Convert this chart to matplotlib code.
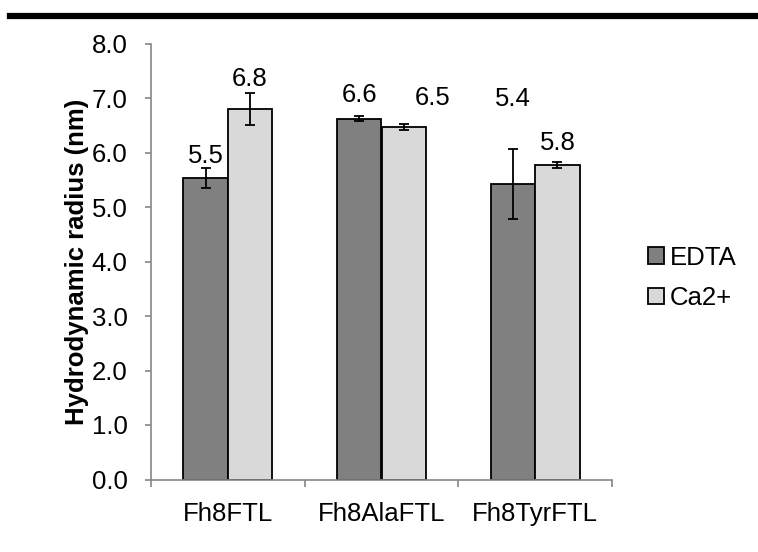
import matplotlib
matplotlib.use("Agg")
import matplotlib.pyplot as plt
import numpy as np
from matplotlib.lines import Line2D
from matplotlib.patches import Patch

plt.rcParams['font.family'] = ['Liberation Sans', 'DejaVu Sans']

categories = ["Fh8FTL", "Fh8AlaFTL", "Fh8TyrFTL"]
series_names = ["EDTA", "Ca2+"]
edta_values = [5.53, 6.62, 5.42]
edta_errors = [0.19, 0.05, 0.64]
ca_values = [6.80, 6.47, 5.77]
ca_errors = [0.29, 0.06, 0.06]
y_ticks = [0.0, 1.0, 2.0, 3.0, 4.0, 5.0, 6.0, 7.0, 8.0]

# label placement (centre of each value label relative to its bar top / centre)
label_dy = [[0.41, 0.43, 1.56], [0.54, 0.53, 0.40]]
label_dx = [[0.0, 0.0, 0.0], [0.0, 0.19, 0.0]]

colors = ["#808080", "#d9d9d9"]
axis_gray = "#868686"
fs = 18.5

fig = plt.figure(figsize=(7.58, 5.52), dpi=100)
ax = fig.add_axes([151 / 758, 1 - 479.5 / 552, (612 - 151) / 758, (479.5 - 43.5) / 552])

x = np.arange(len(categories))
w = 0.29
series = [(edta_values, edta_errors), (ca_values, ca_errors)]
for i, (vals, errs) in enumerate(series):
    pos = x + (i - 0.5) * w
    ax.bar(pos, vals, width=w, color=colors[i], edgecolor="black", linewidth=1.3,
           yerr=errs, error_kw=dict(ecolor="black", elinewidth=1.3, capsize=3.5, capthick=1.3),
           zorder=2)
    for j, v in enumerate(vals):
        ax.text(pos[j] + label_dx[i][j], v + label_dy[i][j], f"{v:.1f}",
                ha="center", va="center", fontsize=fs, color="black")

ax.set_xlim(-0.5, len(categories) - 0.5)
ax.set_ylim(0, 8)
ax.set_yticks(y_ticks)
ax.set_yticklabels([f"{t:.1f}" for t in y_ticks], fontsize=fs)
ax.set_xticks(x)
ax.set_xticklabels(categories, fontsize=fs)
ax.set_xticks(np.arange(-0.5, len(categories)), minor=True)
ax.tick_params(axis="x", which="major", length=0, pad=16)
ax.tick_params(axis="x", which="minor", length=5, color=axis_gray, width=1.2)
ax.tick_params(axis="y", length=4, color=axis_gray, width=1.2, pad=13)

for s in ["top", "right"]:
    ax.spines[s].set_visible(False)
for s in ["left", "bottom"]:
    ax.spines[s].set_color(axis_gray)
    ax.spines[s].set_linewidth(1.2)

ax.set_ylabel("Hydrodynamic radius (nm)", fontsize=fs, fontweight="bold", labelpad=1.5)

handles = [Patch(facecolor=colors[k], edgecolor="black", linewidth=1.3) for k in range(2)]
fig.legend(handles, series_names, loc="center left", bbox_to_anchor=(638 / 758, 1 - 278 / 552),
           frameon=False, fontsize=fs, handlelength=0.6, handleheight=0.6,
           handletextpad=0.25, labelspacing=0.65, borderaxespad=0)

# heavy rule across the top of the figure
fig.add_artist(Line2D([10 / 758, 1.0], [1 - 16 / 552, 1 - 16 / 552], color="black",
                      linewidth=4.5, transform=fig.transFigure))

fig.savefig("out.png", dpi=100)
